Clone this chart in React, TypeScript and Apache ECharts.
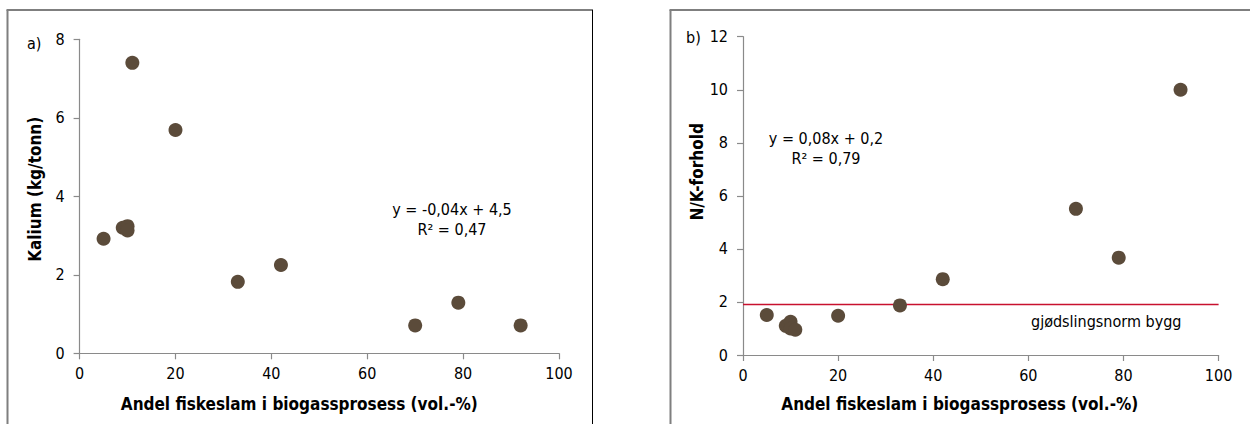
import React, { useEffect, useRef } from "react";
import * as echarts from "echarts";

const xValues = [5, 9, 10, 10, 11, 20, 33, 42, 70, 79, 92];
const kalium = [2.92, 3.2, 3.24, 3.13, 7.4, 5.69, 1.82, 2.25, 0.71, 1.29, 0.71];
const nkRatio = [1.51, 1.1, 1.25, 1.0, 0.95, 1.48, 1.87, 2.86, 5.51, 3.67, 10.0];
const normLevel = 1.9;
const xTitle = "Andel fiskeslam i biogassprosess (vol.-%)";

const FONT = "'DejaVu Sans Condensed', 'DejaVu Sans', sans-serif";
const AXIS_COLOR = "#8a8a8a";
const DOT = "#5b4b3a";

export default function App() {
  const ref = useRef<HTMLDivElement>(null);
  useEffect(() => {
    if (!ref.current) return;
    const chart = echarts.init(ref.current, null, { renderer: "svg" });
    const nameStyle = { color: "#000", fontFamily: FONT, fontSize: 17, fontWeight: "bold" };
    const axisCommon = {
      type: "value",
      axisLine: { show: true, lineStyle: { color: AXIS_COLOR, width: 1.2 } },
      axisTick: { show: true, inside: false, length: 6, lineStyle: { color: AXIS_COLOR, width: 1.2 } },
      splitLine: { show: false },
      axisLabel: { color: "#000", fontFamily: FONT, fontSize: 16 },
      nameLocation: "middle",
    };
    const points = (ys: number[]) => xValues.map((x, i) => [x, ys[i]]);
    chart.setOption({
      animation: false,
      backgroundColor: "#fff",
      textStyle: { fontFamily: FONT },
      grid: [
        { left: 79.6, top: 39.3, width: 479.4, height: 314 },
        { left: 743, top: 36.7, width: 475.6, height: 318.3 },
      ],
      xAxis: [
        { ...axisCommon, gridIndex: 0, min: 0, max: 100, interval: 20, name: xTitle, nameGap: 42,
          nameTextStyle: { ...nameStyle, padding: [0, 40, 0, 0] },
          axisLabel: { ...axisCommon.axisLabel, margin: 12 } },
        { ...axisCommon, gridIndex: 1, min: 0, max: 100, interval: 20, name: xTitle, nameGap: 40,
          nameTextStyle: { ...nameStyle, padding: [0, 42, 0, 0] },
          axisLabel: { ...axisCommon.axisLabel, margin: 12 } },
      ],
      yAxis: [
        { ...axisCommon, gridIndex: 0, min: 0, max: 8, interval: 2, name: "Kalium (kg/tonn)", nameGap: 36,
          nameTextStyle: { ...nameStyle, padding: [0, 0, 0, 14] },
          axisLabel: { ...axisCommon.axisLabel, margin: 15 } },
        { ...axisCommon, gridIndex: 1, min: 0, max: 12, interval: 2, name: "N/K-forhold", nameGap: 38,
          nameTextStyle: { ...nameStyle, padding: [0, 0, 0, 48] },
          axisLabel: { ...axisCommon.axisLabel, margin: 15 } },
      ],
      series: [
        {
          type: "scatter",
          xAxisIndex: 0,
          yAxisIndex: 0,
          data: points(kalium),
          symbolSize: 14,
          itemStyle: { color: DOT, opacity: 1 },
        },
        {
          type: "scatter",
          xAxisIndex: 1,
          yAxisIndex: 1,
          data: points(nkRatio),
          symbolSize: 14,
          itemStyle: { color: DOT, opacity: 1 },
          z: 3,
          markLine: {
            silent: true,
            symbol: ["none", "none"],
            label: { show: false },
            lineStyle: { color: "#c8102e", width: 1.3, type: "solid" },
            data: [{ yAxis: normLevel }],
            z: 1,
          },
        },
      ],
      graphic: [
        { type: "line", shape: { x1: 7.5, y1: 10, x2: 7.5, y2: 430 }, style: { stroke: "#7f7f7f", lineWidth: 2 } },
        { type: "line", shape: { x1: 6.5, y1: 10, x2: 593, y2: 10 }, style: { stroke: "#7f7f7f", lineWidth: 2 } },
        { type: "line", shape: { x1: 592.5, y1: 10, x2: 592.5, y2: 430 }, style: { stroke: "#000", lineWidth: 1 } },
        { type: "line", shape: { x1: 670.5, y1: 10, x2: 670.5, y2: 430 }, style: { stroke: "#7f7f7f", lineWidth: 2 } },
        { type: "line", shape: { x1: 669.5, y1: 10, x2: 1260, y2: 10 }, style: { stroke: "#7f7f7f", lineWidth: 2 } },
        { type: "text", x: 27, y: 43, style: { text: "a)", font: `16px ${FONT}`, fill: "#000", textVerticalAlign: "middle" } },
        { type: "text", x: 686, y: 37, style: { text: "b)", font: `16px ${FONT}`, fill: "#000", textVerticalAlign: "middle" } },
        { type: "text", x: 452, y: 209, style: { text: "y = -0,04x + 4,5", font: `16px ${FONT}`, fill: "#000", textAlign: "center", textVerticalAlign: "middle" } },
        { type: "text", x: 452, y: 229, style: { text: "R² = 0,47", font: `16px ${FONT}`, fill: "#000", textAlign: "center", textVerticalAlign: "middle" } },
        { type: "text", x: 826, y: 138, style: { text: "y = 0,08x + 0,2", font: `16px ${FONT}`, fill: "#000", textAlign: "center", textVerticalAlign: "middle" } },
        { type: "text", x: 826, y: 158, style: { text: "R² = 0,79", font: `16px ${FONT}`, fill: "#000", textAlign: "center", textVerticalAlign: "middle" } },
        { type: "text", x: 1031, y: 321, style: { text: "gjødslingsnorm bygg", font: `16px ${FONT}`, fill: "#000", textVerticalAlign: "middle" } },
      ],
    });
    return () => chart.dispose();
  }, []);
  return (
    <div
      ref={ref}
      style={{ position: "absolute", left: 0, top: 0, width: 1250, height: 424 }}
    />
  );
}
